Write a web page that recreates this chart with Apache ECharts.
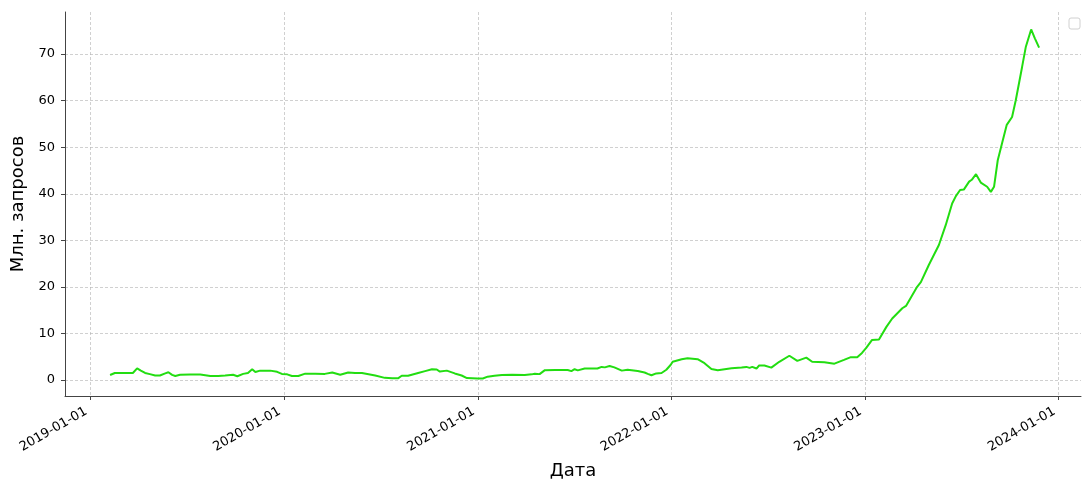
<!DOCTYPE html>
<html>
<head>
<meta charset="utf-8">
<script src="https://cdn.jsdelivr.net/npm/echarts@6/dist/echarts.min.js"></script>
<style>
  html, body { margin: 0; padding: 0; background: #fff; }
  #chart { width: 1082px; height: 481px; }
</style>
</head>
<body>
<div id="chart"></div>
<script>
var dates = [
  "2019-02-07","2019-02-16","2019-03-07","2019-03-22","2019-03-30","2019-04-06","2019-04-14","2019-04-23",
  "2019-05-03","2019-05-12","2019-05-22","2019-05-28","2019-06-04","2019-06-10","2019-06-19","2019-07-08",
  "2019-07-27","2019-08-15","2019-08-30","2019-09-12","2019-09-27","2019-10-05","2019-10-16","2019-10-25",
  "2019-11-02","2019-11-08","2019-11-17","2019-12-06","2019-12-19","2019-12-28","2020-01-07","2020-01-16",
  "2020-01-28","2020-02-10","2020-02-29","2020-03-18","2020-04-01","2020-04-16","2020-05-01","2020-05-14",
  "2020-05-27","2020-06-21","2020-07-09","2020-07-23","2020-08-03","2020-08-10","2020-08-22","2020-09-10",
  "2020-09-23","2020-10-06","2020-10-15","2020-10-21","2020-11-03","2020-11-18","2020-12-01","2020-12-11",
  "2020-12-31","2021-01-10","2021-01-19","2021-02-01","2021-02-15","2021-03-06","2021-03-30","2021-04-12",
  "2021-04-18","2021-04-27","2021-05-07","2021-05-26","2021-06-19","2021-06-26","2021-07-02","2021-07-08",
  "2021-07-21","2021-08-14","2021-08-22","2021-08-28","2021-09-06","2021-09-15","2021-09-29","2021-10-10",
  "2021-10-29","2021-11-11","2021-11-17","2021-11-24","2021-12-03","2021-12-13","2021-12-22","2021-12-30",
  "2022-01-03","2022-01-20","2022-01-31","2022-02-19","2022-03-04","2022-03-17","2022-03-29","2022-04-24",
  "2022-05-13","2022-05-22","2022-05-28","2022-06-02","2022-06-10","2022-06-15","2022-06-25","2022-07-08",
  "2022-07-23","2022-08-11","2022-08-26","2022-09-12","2022-09-23","2022-10-16","2022-11-04","2022-11-22",
  "2022-12-05","2022-12-17","2022-12-26","2023-01-03","2023-01-14","2023-01-27","2023-02-10","2023-02-21",
  "2023-03-12","2023-03-19","2023-04-09","2023-04-16","2023-05-01","2023-05-20","2023-06-02","2023-06-14",
  "2023-06-21","2023-06-29","2023-07-06","2023-07-16","2023-07-21","2023-07-29","2023-08-07","2023-08-19",
  "2023-08-26","2023-09-01","2023-09-08","2023-09-16","2023-09-25","2023-10-05","2023-10-12","2023-10-24",
  "2023-10-31","2023-11-10","2023-11-17","2023-11-25"
];
var values = [
  1.07, 1.5, 1.5, 1.5, 2.5, 2.0, 1.5, 1.25,
  0.95, 0.95, 1.4, 1.65, 1.1, 0.85, 1.1, 1.15,
  1.15, 0.85, 0.85, 0.95, 1.1, 0.8, 1.3, 1.5,
  2.3, 1.7, 2.0, 2.0, 1.75, 1.3, 1.2, 0.85,
  0.85, 1.35, 1.35, 1.3, 1.6, 1.1, 1.6, 1.5,
  1.5, 0.95, 0.45, 0.35, 0.35, 0.9, 0.9, 1.5,
  1.9, 2.3, 2.25, 1.8, 2.0, 1.4, 0.95, 0.4,
  0.3, 0.3, 0.7, 0.9, 1.05, 1.1, 1.05, 1.2,
  1.35, 1.25, 2.1, 2.15, 2.15, 1.9, 2.3, 2.05,
  2.45, 2.45, 2.8, 2.7, 3.0, 2.7, 2.0, 2.2,
  1.9, 1.6, 1.3, 1.0, 1.4, 1.5, 2.2, 3.2,
  3.9, 4.45, 4.65, 4.45, 3.6, 2.35, 2.1, 2.5,
  2.65, 2.8, 2.6, 2.8, 2.45, 3.1, 3.1, 2.65,
  3.9, 5.2, 4.1, 4.8, 3.9, 3.8, 3.5, 4.3,
  4.9, 4.9, 5.8, 6.9, 8.6, 8.7, 11.4, 13.2,
  15.4, 15.9, 20.0, 21.0, 24.7, 29.0, 33.3, 37.9,
  39.5, 40.8, 40.9, 42.6, 43.0, 44.2, 42.4, 41.5,
  40.4, 41.5, 47.2, 50.8, 54.8, 56.5, 60.1, 67.3,
  71.6, 75.3, 73.4, 71.4
];
var xTicks = ["2019-01-01","2020-01-01","2021-01-01","2022-01-01","2023-01-01","2024-01-01"];
var yTicks = [0, 10, 20, 30, 40, 50, 60, 70];

function toMs(s) {
  var p = s.split("-");
  return Date.UTC(+p[0], +p[1] - 1, +p[2]);
}
function fmtDate(ms) {
  var d = new Date(ms);
  var m = d.getUTCMonth() + 1, day = d.getUTCDate();
  return d.getUTCFullYear() + "-" + (m < 10 ? "0" : "") + m + "-" + (day < 10 ? "0" : "") + day;
}

var seriesData = [];
for (var i = 0; i < dates.length; i++) {
  seriesData.push([toMs(dates[i]), values[i]]);
}
var xTickValues = xTicks.map(toMs);

var font = "DejaVu Sans";
var chart = echarts.init(document.getElementById("chart"));
chart.setOption({
  animation: false,
  textStyle: { fontFamily: font },
  grid: { left: 65, right: 1, top: 12, bottom: 85, outerBoundsMode: "none", containLabel: false },
  xAxis: {
    type: "value",
    min: toMs("2018-11-14"),
    max: toMs("2024-02-12"),
    name: "Дата",
    nameLocation: "middle",
    nameGap: 66,
    nameTextStyle: { fontSize: 18, color: "#000", fontFamily: font },
    axisLine: { show: true, onZero: false, lineStyle: { color: "#444", width: 1 } },
    axisTick: { show: true, inside: false, length: 4, customValues: xTickValues, lineStyle: { color: "#444" } },
    axisLabel: {
      customValues: xTickValues,
      rotate: 30,
      fontSize: 13,
      color: "#000",
      margin: 12,
      padding: [0, 5, 0, 0],
      formatter: function (v) { return fmtDate(v); }
    },
    splitLine: { show: true, lineStyle: { color: "#b0b0b0", type: [3, 2], width: 0.6 } }
  },
  yAxis: {
    type: "value",
    min: -3.45,
    max: 79.05,
    name: "Млн. запросов",
    nameLocation: "middle",
    nameGap: 28,
    nameTextStyle: { fontSize: 18, color: "#000", fontFamily: font },
    axisLine: { show: true, onZero: false, lineStyle: { color: "#444", width: 1 } },
    axisTick: { show: true, length: 4, customValues: yTicks, lineStyle: { color: "#444" } },
    axisLabel: { customValues: yTicks, fontSize: 13, color: "#000", margin: 10 },
    splitLine: { show: true, lineStyle: { color: "#b0b0b0", type: [3, 2], width: 0.6 } }
  },
  graphic: [{
    type: "rect",
    shape: { x: 1069, y: 18, width: 11, height: 11, r: 2 },
    style: { fill: "#fff", stroke: "#d0d0d0", lineWidth: 1 }
  }],
  series: [{
    type: "line",
    data: seriesData,
    showSymbol: false,
    smooth: false,
    lineStyle: { color: "#22dd11", width: 2 },
    itemStyle: { color: "#22dd11" }
  }]
});
</script>
</body>
</html>
